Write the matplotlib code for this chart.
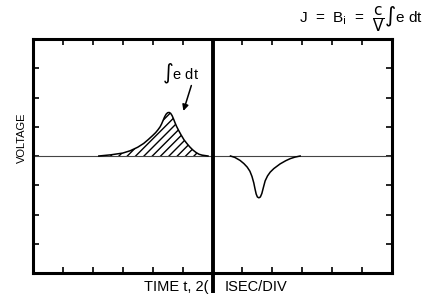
import matplotlib.pyplot as plt
import numpy as np

# time axis in divisions (12 div), voltage in divisions (+-4 div)
pos_t = [2.2, 2.6, 3.0, 3.25, 3.5, 3.7, 3.85, 4.0, 4.1, 4.18, 4.25, 4.3, 4.35,
         4.4, 4.45, 4.5, 4.55, 4.6, 4.65, 4.7, 4.75, 4.8, 4.87, 4.95, 5.05,
         5.15, 5.25, 5.35, 5.45, 5.55, 5.65, 5.85]
pos_v = [0, 0.04, 0.1, 0.18, 0.3, 0.43, 0.56, 0.7, 0.8, 0.9, 1.0, 1.1, 1.22,
         1.34, 1.43, 1.48, 1.49, 1.46, 1.38, 1.26, 1.13, 1.01, 0.87, 0.72,
         0.55, 0.42, 0.3, 0.2, 0.12, 0.06, 0.03, 0]

neg_t = [6.6, 6.75, 6.92, 7.05, 7.16, 7.25, 7.32, 7.38, 7.42, 7.46, 7.5,
         7.55, 7.6, 7.65, 7.7, 7.76, 7.84, 7.93, 8.05, 8.26, 8.45, 8.6,
         8.75, 8.93]
neg_v = [0, -0.05, -0.15, -0.26, -0.38, -0.52, -0.7, -0.92, -1.12, -1.3,
         -1.4, -1.43, -1.4, -1.28, -1.08, -0.85, -0.68, -0.55, -0.43, -0.27,
         -0.16, -0.09, -0.04, 0]

x_ticks = [1, 2, 3, 4, 5, 7, 8, 9, 10, 11]
y_ticks = [-3, -2, -1, 0, 1, 2, 3]

plt.rcParams['font.family'] = ['Liberation Sans', 'DejaVu Sans']
plt.rcParams['hatch.linewidth'] = 1.0

fig = plt.figure(figsize=(4.36, 2.99), dpi=100)
ax = fig.add_axes([33/436, 26/299, 359/436, 234/299])
ax.set_xlim(0, 12)
ax.set_ylim(-4, 4)

# baseline
ax.plot([0, 12], [0, 0], color='#444444', lw=0.8)

# pulses
ax.plot(pos_t, pos_v, color='black', lw=1.1)
ax.fill_between(pos_t, pos_v, 0, facecolor='none', edgecolor='black',
                hatch='////', lw=0)
ax.plot(neg_t, neg_v, color='black', lw=1.1)

# thick center divider running below the frame
ax.plot([6, 6], [4, -4.7], color='black', lw=2.8, clip_on=False,
        solid_capstyle='butt')

for s in ax.spines.values():
    s.set_linewidth(2.2)

ax.set_xticks(x_ticks)
ax.set_yticks(y_ticks)
ax.tick_params(direction='in', length=4, width=1.2, top=True, right=True,
               labelbottom=False, labelleft=False)

ax.annotate('', xy=(5.0, 1.45), xytext=(5.32, 2.5),
            arrowprops=dict(arrowstyle='-|>', color='black', lw=1.1,
                            mutation_scale=9))
ax.text(4.92, 2.8, r'$\int$e dt', fontsize=10.5, ha='center', va='center')

fig.text(22/436, 1 - 138/299, 'VOLTAGE', rotation=90, fontsize=8,
         ha='center', va='center')
fig.text(208/436, 1 - 287/299, 'TIME t, 2(', fontsize=10.5, ha='right',
         va='center')
fig.text(225/436, 1 - 287/299, 'ISEC/DIV', fontsize=10.5, ha='left',
         va='center')
fig.text(423/436, 1 - 19/299,
         r'J  =  B$_\mathrm{i}$  =  $\dfrac{\mathrm{c}}{\mathrm{V}}\int$e dt',
         fontsize=11, ha='right', va='center')

fig.savefig('out.png', dpi=100)
